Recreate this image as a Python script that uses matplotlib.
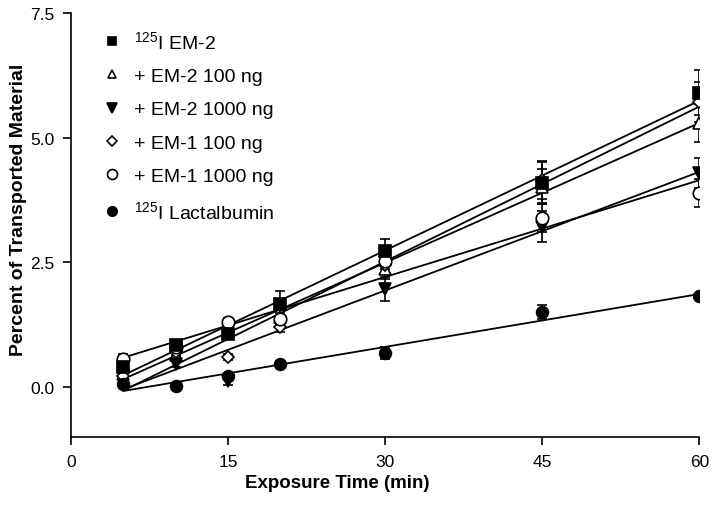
import numpy as np
import matplotlib
matplotlib.use("Agg")
import matplotlib.pyplot as plt
from matplotlib.lines import Line2D

plt.rcParams['font.family'] = ['Liberation Sans', 'DejaVu Sans']
plt.rcParams['mathtext.fontset'] = 'custom'
plt.rcParams['mathtext.rm'] = 'Liberation Sans'

time_min = [5, 10, 15, 20, 30, 45, 60]

labels = [r'$\mathregular{^{125}}$I EM-2', '+ EM-2 100 ng', '+ EM-2 1000 ng',
          '+ EM-1 100 ng', '+ EM-1 1000 ng', r'$\mathregular{^{125}}$I Lactalbumin']

em2 = [0.40, 0.84, 1.06, 1.66, 2.72, 4.10, 5.90]
em2_err = [0.12, 0.08, 0.10, 0.26, 0.24, 0.42, 0.45]
em2_100 = [0.26, 0.64, 1.15, 1.40, 2.36, 4.02, 5.30]
em2_100_err = [0.10, 0.10, 0.10, 0.15, 0.20, 0.35, 0.38]
em2_1000 = [0.22, 0.46, 0.12, 1.30, 1.96, 3.22, 4.30]
em2_1000_err = [0.08, 0.06, 0.08, 0.10, 0.24, 0.32, 0.30]
em1_100 = [0.22, 0.70, 0.60, 1.20, 2.45, 4.15, 5.72]
em1_100_err = [0.08, 0.08, 0.06, 0.10, 0.18, 0.38, 0.40]
em1_1000 = [0.56, 0.80, 1.30, 1.36, 2.52, 3.40, 3.90]
em1_1000_err = [0.10, 0.08, 0.08, 0.12, 0.16, 0.30, 0.28]
lact = [0.06, 0.02, 0.22, 0.46, 0.68, 1.50, 1.82]
lact_err = [0.06, 0.04, 0.05, 0.06, 0.12, 0.14, 0.05]

series = [em2, em2_100, em2_1000, em1_100, em1_1000, lact]
errors = [em2_err, em2_100_err, em2_1000_err, em1_100_err, em1_1000_err, lact_err]
markers = ['s', '^', 'v', 'D', 'o', 'o']
filled = [True, False, True, False, False, True]
msizes = [8, 8, 8.5, 6, 9, 8.5]
zorders = [6, 4, 4, 4, 4, 4]

fig = plt.figure(figsize=(7.14, 5.10), dpi=100)
ax = fig.add_axes([0.0994, 0.1412, 0.8801, 0.8313])

x = np.array(time_min, dtype=float)
handles = []
for y, e, m, f, ms, z, lab in zip(series, errors, markers, filled, msizes, zorders, labels):
    y = np.array(y)
    k, b = np.polyfit(x, y, 1)
    xx = np.array([5.0, 60.0])
    ax.plot(xx, k * xx + b, color='black', lw=1.3, zorder=2)
    ax.errorbar(x, y, yerr=e, fmt='none', ecolor='black', elinewidth=1.2,
                capsize=3.5, capthick=1.2, zorder=3)
    fc = 'black' if f else 'white'
    ax.plot(x, y, linestyle='none', marker=m, ms=ms, mfc=fc, mec='black',
            mew=1.2, zorder=z)
    handles.append(Line2D([], [], linestyle='none', marker=m, ms=ms * 0.8,
                          mfc=fc, mec='black', mew=1.2, label=lab))

ax.set_xlim(0, 60)
ax.set_ylim(-1.0, 7.5)
ax.set_xticks([0, 15, 30, 45, 60])
ax.set_yticks([0, 2.5, 5.0, 7.5])
ax.set_yticklabels(['0.0', '2.5', '5.0', '7.5'])
ax.spines['top'].set_visible(False)
ax.spines['right'].set_visible(False)
for s in ['left', 'bottom']:
    ax.spines[s].set_linewidth(1.2)
ax.tick_params(direction='out', length=6, width=1.2, labelsize=12.5, pad=6)
ax.set_xlabel('Exposure Time (min)', fontsize=13.5, fontweight='bold')
ax.set_ylabel('Percent of Transported Material', fontsize=14, fontweight='bold')
ax.xaxis.set_label_coords(0.424, -0.087)
ax.yaxis.set_label_coords(-0.070, 0.538)

ax.legend(handles=handles, loc='upper left', bbox_to_anchor=(0.035, 0.978),
          frameon=False, fontsize=14, labelspacing=0.8, handletextpad=0.5,
          handlelength=1.2, borderaxespad=0)

fig.savefig('out.png', dpi=100)
